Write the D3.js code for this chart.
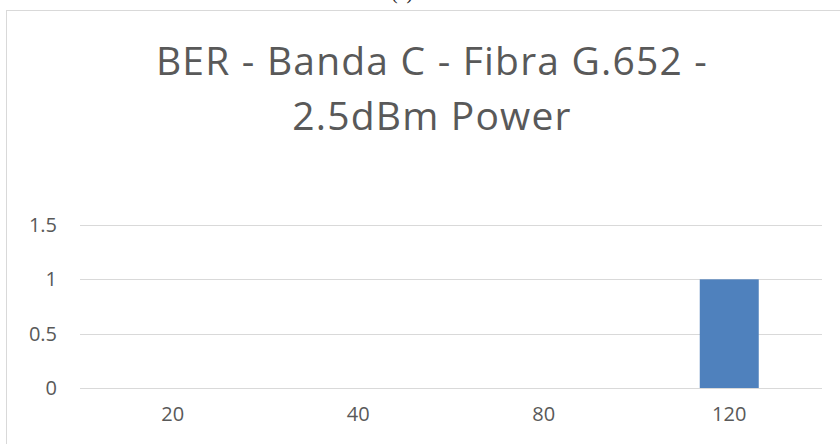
<!DOCTYPE html>
<html>
<head>
<meta charset="utf-8">
<script src="https://cdn.jsdelivr.net/npm/d3@7"></script>
<style>
  html, body { margin: 0; padding: 0; background: #fff; }
  svg { display: block; }
</style>
</head>
<body>
<script>
// BER per span length, C band, G.652 fibre, 2.5 dBm launch power
const categories = ["20", "40", "80", "120"];
const berValues = [0, 0, 0, 1];
const yTicks = [0, 0.5, 1, 1.5];
const titleLines = ["BER - Banda C - Fibra G.652 -", "2.5dBm Power"];

const W = 840, H = 444;
const svg = d3.select("body").append("svg").attr("width", W).attr("height", H);

// caption of the sub-figure, mostly above the visible page
svg.append("text")
  .attr("x", 402).attr("y", -1)
  .attr("text-anchor", "middle")
  .attr("font-family", "Liberation Serif, serif")
  .attr("font-size", 20)
  .attr("fill", "#222")
  .text("(a)");

// chart frame
svg.append("rect")
  .attr("x", 6.5).attr("y", 10.5)
  .attr("width", 900).attr("height", 500)
  .attr("fill", "#fff")
  .attr("stroke", "#d9d9d9").attr("stroke-width", 1);

const plot = { left: 80, right: 822, top: 226, bottom: 388 };

const x = d3.scaleBand().domain(categories).range([plot.left, plot.right]).paddingInner(0).paddingOuter(0);
const y = d3.scaleLinear().domain([0, 1.5]).range([plot.bottom, 225]);

const font = "Open Sans, Carlito, Calibri, sans-serif";

// title
svg.append("g").selectAll("text").data(titleLines).join("text")
  .attr("x", 432)
  .attr("y", (d, i) => 75 + i * 55)
  .attr("text-anchor", "middle")
  .attr("font-family", font)
  .attr("font-size", 39)
  .attr("letter-spacing", 1.2)
  .attr("fill", "#595959")
  .text(d => d);

// gridlines
svg.append("g").selectAll("line").data(yTicks).join("line")
  .attr("x1", plot.left).attr("x2", plot.right)
  .attr("y1", d => Math.round(y(d)) + 0.5).attr("y2", d => Math.round(y(d)) + 0.5)
  .attr("stroke", "#d9d9d9").attr("stroke-width", 1);

// y axis labels
const yAxis = d3.axisLeft(y).tickValues(yTicks).tickSize(0).tickPadding(0).tickFormat(d3.format("~g"));
const yg = svg.append("g").attr("transform", `translate(57,0)`).call(yAxis);
yg.select(".domain").remove();
yg.selectAll("text")
  .attr("font-family", font).attr("font-size", 20).attr("fill", "#595959");

// x axis labels
const xAxis = d3.axisBottom(x).tickSize(0).tickPadding(0);
const xg = svg.append("g").attr("transform", `translate(0,407)`).call(xAxis);
xg.select(".domain").remove();
xg.selectAll("text")
  .attr("font-family", font).attr("font-size", 20).attr("fill", "#595959");

// bars
const barW = 59;
svg.append("g").selectAll("rect").data(categories.map((c, i) => ({ c, v: berValues[i] }))).join("rect")
  .attr("x", d => x(d.c) + x.bandwidth() / 2 - barW / 2)
  .attr("y", d => y(d.v))
  .attr("width", barW)
  .attr("height", d => y(0) - y(d.v))
  .attr("fill", "#4f81bd");
</script>
</body>
</html>
